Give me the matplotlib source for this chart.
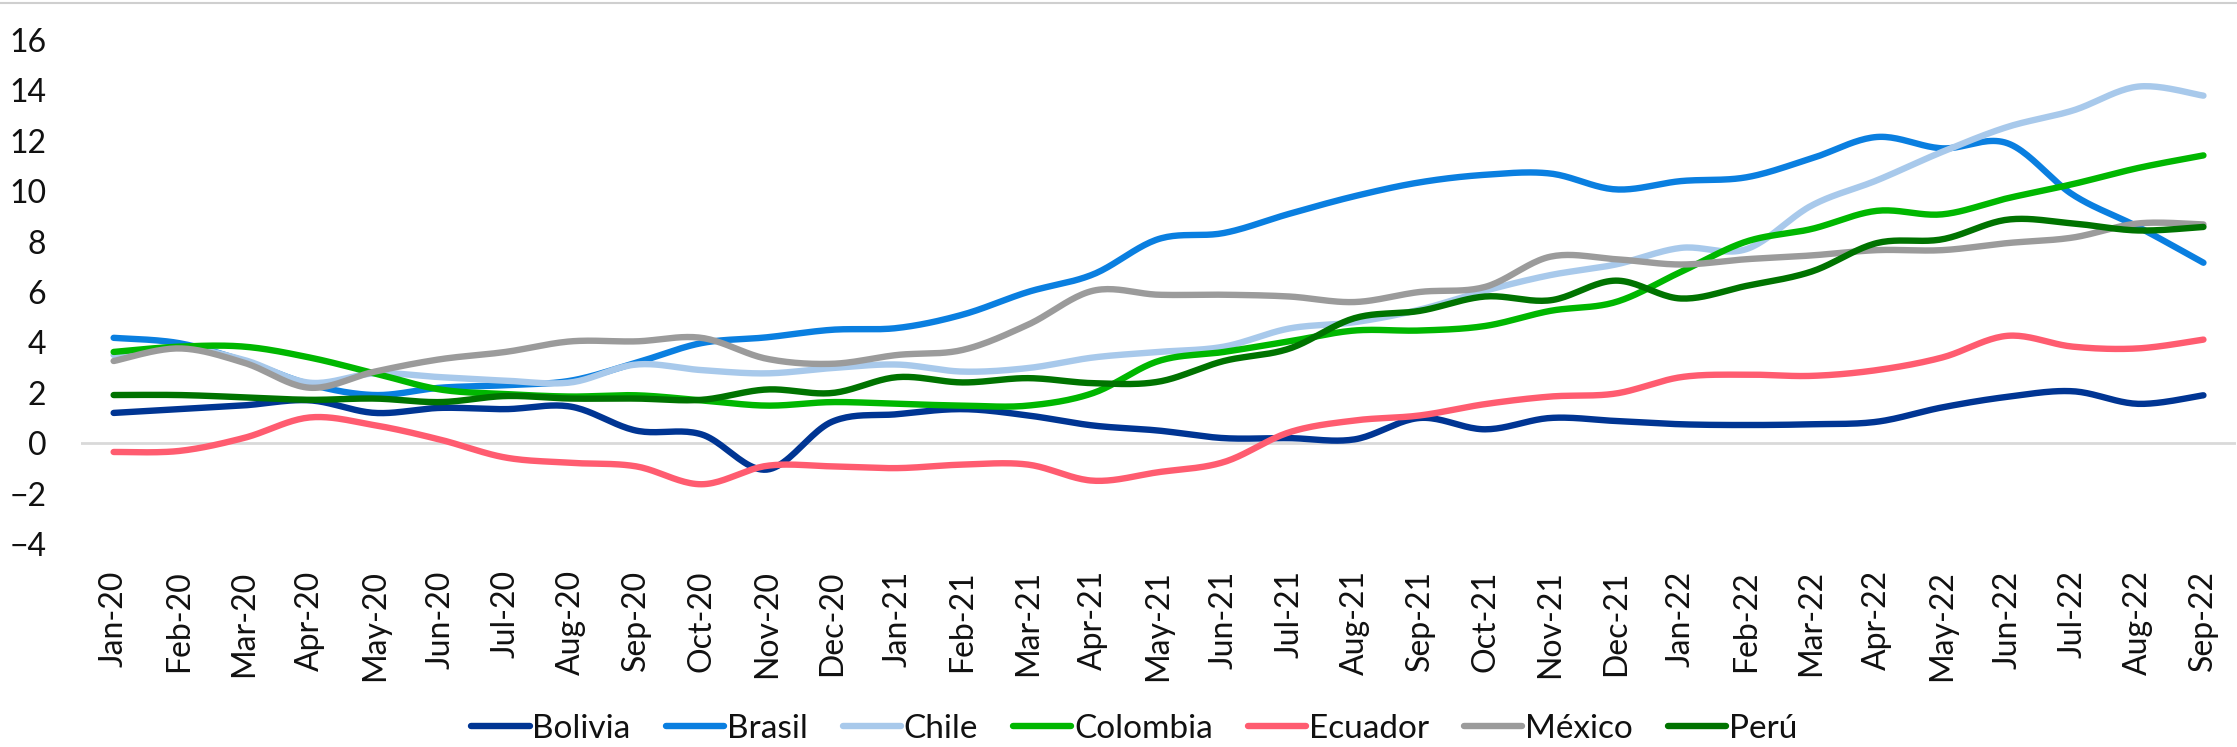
import numpy as np
import matplotlib
matplotlib.use('Agg')
import matplotlib.pyplot as plt
from matplotlib.lines import Line2D

# Etiquetas de meses (Jan-20 ... Sep-22)
meses = ['Jan-20', 'Feb-20', 'Mar-20', 'Apr-20', 'May-20', 'Jun-20', 'Jul-20', 'Aug-20',
         'Sep-20', 'Oct-20', 'Nov-20', 'Dec-20', 'Jan-21', 'Feb-21', 'Mar-21', 'Apr-21',
         'May-21', 'Jun-21', 'Jul-21', 'Aug-21', 'Sep-21', 'Oct-21', 'Nov-21', 'Dec-21',
         'Jan-22', 'Feb-22', 'Mar-22', 'Apr-22', 'May-22', 'Jun-22', 'Jul-22', 'Aug-22',
         'Sep-22']

bolivia = [1.2, 1.35, 1.5, 1.7, 1.2, 1.4, 1.35, 1.45, 0.5, 0.35, -1.05, 0.85,
           1.15, 1.35, 1.1, 0.7, 0.5, 0.2, 0.2, 0.15, 1.0, 0.55, 1.0, 0.88,
           0.75, 0.72, 0.75, 0.85, 1.42, 1.84, 2.06, 1.56, 1.9]
brasil = [4.18, 3.97, 3.26, 2.34, 1.91, 2.2, 2.3, 2.48, 3.19, 3.97, 4.2, 4.5,
          4.57, 5.1, 6.0, 6.7, 8.1, 8.34, 9.1, 9.8, 10.35, 10.65, 10.7, 10.07,
          10.4, 10.55, 11.3, 12.15, 11.7, 11.9, 9.86, 8.58, 7.16]
chile = [3.5, 3.8, 3.3, 2.4, 2.77, 2.62, 2.48, 2.41, 3.12, 2.9, 2.77, 2.98,
         3.12, 2.84, 2.98, 3.4, 3.62, 3.83, 4.55, 4.8, 5.3, 6.05, 6.67, 7.09,
         7.75, 7.7, 9.43, 10.43, 11.56, 12.55, 13.2, 14.15, 13.79]
colombia = [3.62, 3.83, 3.83, 3.4, 2.77, 2.13, 1.95, 1.85, 1.9, 1.7, 1.49, 1.63,
            1.56, 1.49, 1.49, 1.99, 3.26, 3.62, 4.04, 4.47, 4.47, 4.65, 5.25, 5.6,
            6.8, 8.0, 8.5, 9.22, 9.08, 9.72, 10.28, 10.92, 11.42]
ecuador = [-0.35, -0.31, 0.21, 1.02, 0.71, 0.14, -0.57, -0.78, -0.92, -1.63, -0.9, -0.92,
           -0.99, -0.85, -0.85, -1.49, -1.15, -0.75, 0.43, 0.9, 1.1, 1.55, 1.85, 1.97,
           2.62, 2.72, 2.67, 2.9, 3.4, 4.26, 3.83, 3.76, 4.11]
mexico = [3.26, 3.76, 3.19, 2.2, 2.84, 3.33, 3.62, 4.04, 4.04, 4.18, 3.35, 3.15,
          3.5, 3.7, 4.7, 6.05, 5.89, 5.89, 5.82, 5.6, 6.0, 6.2, 7.4, 7.3,
          7.09, 7.3, 7.45, 7.66, 7.66, 7.94, 8.16, 8.72, 8.68]
peru = [1.91, 1.91, 1.82, 1.72, 1.77, 1.63, 1.87, 1.77, 1.77, 1.72, 2.13, 1.99,
        2.62, 2.41, 2.58, 2.38, 2.44, 3.26, 3.75, 4.96, 5.25, 5.82, 5.67, 6.45,
        5.74, 6.24, 6.81, 7.94, 8.09, 8.87, 8.72, 8.44, 8.58]

paises = ['Bolivia', 'Brasil', 'Chile', 'Colombia', 'Ecuador', 'México', 'Perú']
series = [bolivia, brasil, chile, colombia, ecuador, mexico, peru]
colores = ['#003593', '#0A7FE0', '#A8C9EB', '#00B700', '#FF5C70', '#9B9B9B', '#007300']


# Suavizado tipo Excel (Bezier con puntos de control de Catmull-Rom)
def suavizar(y, n=24):
    y = np.asarray(y, dtype=float)
    x = np.arange(len(y), dtype=float)
    xs, ys = [], []
    t = np.linspace(0, 1, n)
    for i in range(len(y) - 1):
        i0 = max(i - 1, 0)
        i3 = min(i + 2, len(y) - 1)
        for arr, out in ((x, xs), (y, ys)):
            p0, p1, p2, p3 = arr[i0], arr[i], arr[i + 1], arr[i3]
            c1 = p1 + (p2 - p0) / 6
            c2 = p2 - (p3 - p1) / 6
            b = ((1 - t) ** 3 * p1 + 3 * (1 - t) ** 2 * t * c1
                 + 3 * (1 - t) * t ** 2 * c2 + t ** 3 * p2)
            out.append(b if i == 0 else b[1:])
    return np.concatenate(xs), np.concatenate(ys)


fig = plt.figure(figsize=(22.37, 7.47), dpi=100)
ax = fig.add_axes([0.0362, 0.2718, 0.9634, 0.6747])

ax.axhline(0, color='#D9D9D9', lw=2, zorder=1)
for nombre, vals, col in zip(paises, series, colores):
    xx, yy = suavizar(vals)
    ax.plot(xx, yy, color=col, lw=4.6, label=nombre, solid_capstyle='round', zorder=2)

ax.set_xlim(-0.5, 32.5)
ax.set_ylim(-4, 16)
ax.set_yticks(range(-4, 17, 2))
ax.set_xticks(range(len(meses)))
ax.set_xticklabels(meses, rotation=90, family=['Lato', 'DejaVu Sans'], fontsize=23, color='#111111')
for lab in ax.get_yticklabels():
    lab.set_family(['Lato', 'DejaVu Sans'])
    lab.set_fontsize(23)
    lab.set_color('#111111')
ax.tick_params(axis='y', length=0, pad=25)
ax.tick_params(axis='x', length=0, pad=19)
for s in ax.spines.values():
    s.set_visible(False)

fig.add_artist(Line2D([0, 1], [0.996, 0.996], color='#CFCFCF', lw=1.5))

fig.legend(loc='center', bbox_to_anchor=(0.507, 0.024), ncol=7, frameon=False,
           prop={'family': ['Lato', 'DejaVu Sans'], 'size': 24},
           handlelength=1.75, handletextpad=0.08, columnspacing=1.05,
           labelcolor='#111111')

fig.savefig('out.png', dpi=100)
